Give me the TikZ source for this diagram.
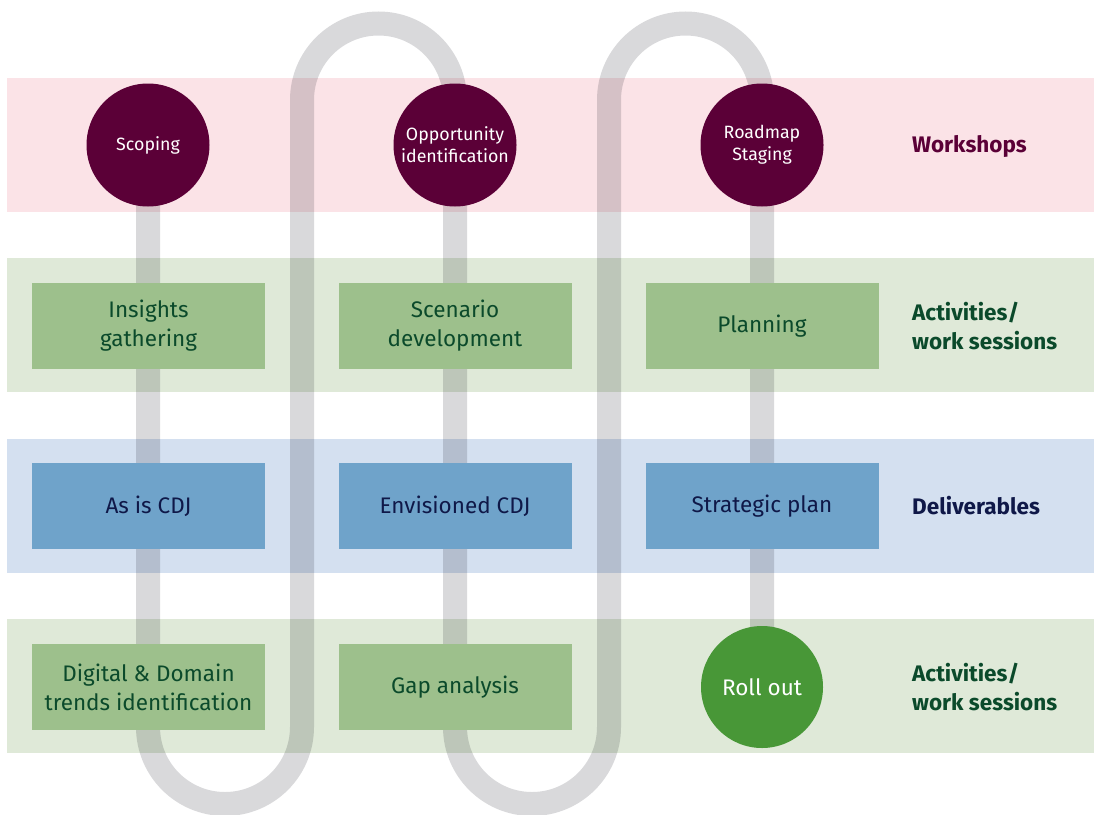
\documentclass[tikz,border=0pt]{standalone}
\usepackage{fontspec}
\setmainfont{Fira Sans}
\usetikzlibrary{positioning}

\definecolor{bandpink}{HTML}{FBE3E7}
\definecolor{bandgreen}{HTML}{DFE9D8}
\definecolor{bandblue}{HTML}{D4E0F0}
\definecolor{trackgray}{HTML}{D9D9DB}
\definecolor{maroon}{HTML}{5B0037}
\definecolor{boxgreen}{HTML}{9DC08C}
\definecolor{boxblue}{HTML}{6FA3CA}
\definecolor{rollgreen}{HTML}{489737}
\definecolor{darkgreen}{HTML}{0B4A2B}
\definecolor{navy}{HTML}{0F1848}

\pgfdeclarelayer{tracklayer}
\pgfdeclarelayer{bandlayer}
\pgfsetlayers{tracklayer,bandlayer,main}

\tikzset{
  band/.style={fill=#1,draw=none},
  track/.style={draw=trackgray,line width=24pt},
  workshop/.style={shape=circle,fill=maroon,text=white,minimum size=123pt,inner sep=0pt,
    align=center,font=\fontsize{17.8}{22}\selectfont},
  rollout/.style={shape=circle,fill=rollgreen,text=white,minimum size=122pt,inner sep=0pt,
    align=center,font=\fontsize{22.5}{29}\selectfont},
  task/.style={shape=rectangle,fill=boxgreen,text=darkgreen,minimum width=233pt,minimum height=86pt,
    inner sep=0pt,align=center,font=\fontsize{22.5}{29}\selectfont},
  deliverable/.style={task,fill=boxblue,text=navy},
  lanelabel/.style={anchor=west,align=left,inner sep=0pt,font=\bfseries\fontsize{22.5}{29}\selectfont,text=#1}
}

\begin{document}
\begin{tikzpicture}[x=1pt,y=1pt]
  \useasboundingbox (0,0) rectangle (1094,-814);

  % workshops and roll out
  \node[workshop] (scoping) at (148,-145) {Scoping};
  \node[workshop] (opportunity) at (455,-145) {Opportunity\\identification};
  \node[workshop] (roadmap) at (762,-145) {Roadmap\\Staging};
  \node[rollout] (roll) at (762,-687) {Roll out};

  % activities and deliverables
  \node[task] (insights) at (148.5,-326) {Insights\\gathering};
  \node[task] (scenario) at (455,-326) {Scenario\\development};
  \node[task] (planning) at (762,-326) {Planning};

  \node[deliverable] (asis) at (148.5,-506) {As is CDJ};
  \node[deliverable] (envisioned) at (455,-506) {Envisioned CDJ};
  \node[deliverable] (strategic) at (762,-506) {Strategic plan};

  \node[task] (trends) at (148.5,-687) {Digital \& Domain\\trends identification};
  \node[task] (gap) at (455,-687) {Gap analysis};

  % lane labels
  \node[lanelabel=maroon] (lworkshops) at (912,-146) {Workshops};
  \node[lanelabel=darkgreen] (lactivities) at (912,-326) {Activities/\\work sessions};
  \node[lanelabel=navy] (ldeliverables) at (912,-506) {Deliverables};
  \node[lanelabel=darkgreen] (lactivities2) at (912,-687) {Activities/\\work sessions};

  % the track behind everything
  \begin{pgfonlayer}{tracklayer}
    \draw[track] (scoping.center) -- (148,-727) arc[start angle=180,end angle=360,radius=77]
      -- (302,-100) arc[start angle=180,end angle=0,radius=76.5]
      -- (455,-727) arc[start angle=180,end angle=360,radius=77]
      -- (609,-100) arc[start angle=180,end angle=0,radius=76.5]
      -- (roll.center);
  \end{pgfonlayer}

  % bands
  \begin{pgfonlayer}{bandlayer}
    \begin{scope}[blend mode=multiply]
      \fill[band=bandpink] (7,-78) rectangle (1094,-212);
      \fill[band=bandgreen] (7,-258) rectangle (1094,-392);
      \fill[band=bandblue] (7,-439) rectangle (1094,-573);
      \fill[band=bandgreen] (7,-619) rectangle (1094,-753);
    \end{scope}
  \end{pgfonlayer}
\end{tikzpicture}
\end{document}
